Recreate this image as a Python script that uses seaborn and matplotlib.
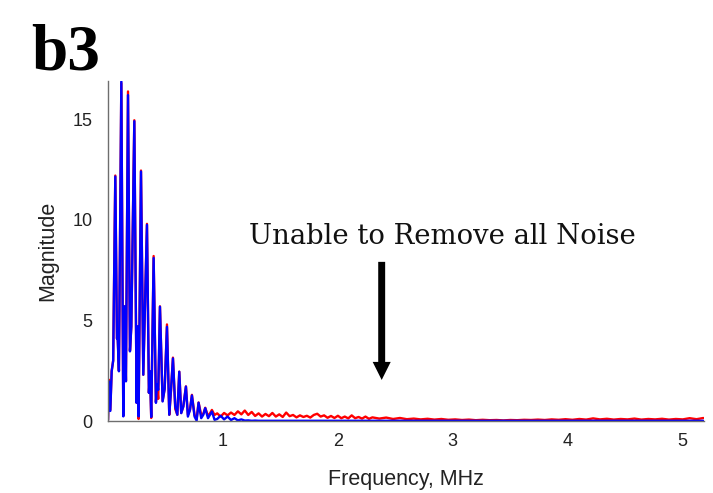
import numpy as np
import pandas as pd
import matplotlib
matplotlib.use("Agg")
import matplotlib.pyplot as plt
import seaborn as sns

# ---- data (frequency in MHz, magnitude) ----
freq_main = [0.000, 0.008, 0.020, 0.032, 0.045, 0.0635, 0.078, 0.084, 0.095, 0.116,
             0.133, 0.145, 0.156, 0.174, 0.191, 0.203, 0.229, 0.249, 0.258, 0.266,
             0.287, 0.307, 0.339, 0.356, 0.365, 0.376, 0.397, 0.417, 0.426, 0.437,
             0.452, 0.475, 0.493, 0.513, 0.533, 0.548, 0.565, 0.585, 0.603, 0.620,
             0.637, 0.655, 0.678, 0.695, 0.713, 0.730, 0.753, 0.771, 0.788, 0.811,
             0.829, 0.846, 0.870, 0.887, 0.904, 0.927]
blue_main = [0.05, 1.97, 0.50, 2.47, 3.00, 12.15, 4.10, 4.10, 2.47, 16.90,
             0.23, 5.70, 1.97, 16.20, 3.46, 4.70, 14.90, 0.90, 4.70, 0.23,
             12.40, 2.30, 9.75, 1.40, 2.47, 0.20, 8.10, 0.90, 1.80, 1.55,
             5.68, 0.97, 1.60, 4.68, 0.31, 1.54, 3.11, 0.72, 0.31, 2.45,
             0.39, 0.72, 1.71, 0.22, 0.55, 1.27, 0.22, 0.02, 0.91, 0.14,
             0.31, 0.64, 0.14, 0.31, 0.47, 0.06]
red_main = [0.05, 2.05, 0.55, 2.50, 3.00, 12.20, 4.10, 4.30, 2.50, 16.80,
            0.25, 5.70, 2.00, 16.38, 3.50, 4.70, 14.95, 0.90, 4.70, 0.10,
            12.45, 2.30, 9.80, 1.40, 2.47, 0.15, 8.20, 0.95, 1.80, 1.10,
            5.70, 1.00, 1.60, 4.80, 0.31, 1.50, 3.15, 0.60, 0.31, 2.45,
            0.40, 0.72, 1.72, 0.30, 0.55, 1.30, 0.30, 0.10, 0.92, 0.30,
            0.35, 0.66, 0.25, 0.38, 0.55, 0.30]

freq_tail = [0.95, 0.98, 1.01, 1.04, 1.07, 1.10, 1.13, 1.16, 1.19, 1.22,
             1.25, 1.28, 1.31, 1.34, 1.37, 1.40, 1.43, 1.46, 1.49, 1.52,
             1.55, 1.58, 1.61, 1.64, 1.67, 1.70, 1.73, 1.76, 1.79, 1.82,
             1.85, 1.88, 1.91, 1.94, 1.97, 2.00, 2.03, 2.06, 2.09, 2.12,
             2.15, 2.18, 2.21, 2.24, 2.27, 2.30,
             2.36, 2.42, 2.48, 2.54, 2.60, 2.66, 2.72, 2.78, 2.84, 2.90,
             2.96, 3.02, 3.08, 3.14, 3.20, 3.26, 3.32, 3.38, 3.44, 3.50,
             3.56, 3.62, 3.68, 3.74, 3.80, 3.86, 3.92, 3.98, 4.04, 4.10,
             4.16, 4.22, 4.28, 4.34, 4.40, 4.46, 4.52, 4.58, 4.64, 4.70,
             4.76, 4.82, 4.88, 4.94, 5.00, 5.06, 5.12, 5.18]
red_tail = [0.38, 0.22, 0.40, 0.28, 0.42, 0.30, 0.48, 0.33, 0.52, 0.30,
            0.45, 0.25, 0.38, 0.22, 0.35, 0.24, 0.40, 0.22, 0.33, 0.20,
            0.42, 0.24, 0.30, 0.18, 0.28, 0.20, 0.26, 0.17, 0.30, 0.36,
            0.22, 0.28, 0.16, 0.25, 0.15, 0.26, 0.14, 0.22, 0.13, 0.28,
            0.14, 0.20, 0.12, 0.22, 0.11, 0.18,
            0.12, 0.17, 0.10, 0.15, 0.09, 0.12, 0.08, 0.11, 0.07, 0.10,
            0.06, 0.08, 0.05, 0.07, 0.04, 0.06, 0.04, 0.05, 0.03, 0.05,
            0.04, 0.06, 0.05, 0.07, 0.05, 0.08, 0.06, 0.09, 0.06, 0.10,
            0.07, 0.13, 0.08, 0.11, 0.07, 0.10, 0.08, 0.12, 0.07, 0.10,
            0.08, 0.11, 0.07, 0.10, 0.08, 0.14, 0.09, 0.15]
blue_tail = [0.10, 0.26, 0.08, 0.22, 0.05, 0.14, 0.03, 0.08, 0.02, 0.03,
             0.01, 0.02, 0.01, 0.01, 0.01, 0.01, 0.01, 0.01, 0.01, 0.01,
             0.01, 0.01, 0.01, 0.01, 0.01, 0.01, 0.01, 0.01, 0.01, 0.01,
             0.01, 0.01, 0.01, 0.01, 0.01, 0.01, 0.01, 0.01, 0.01, 0.01,
             0.01, 0.01, 0.01, 0.01, 0.01, 0.01,
             0.01, 0.01, 0.01, 0.01, 0.01, 0.01, 0.01, 0.01, 0.01, 0.01,
             0.01, 0.01, 0.01, 0.01, 0.01, 0.01, 0.01, 0.01, 0.01, 0.01,
             0.01, 0.01, 0.01, 0.01, 0.01, 0.01, 0.01, 0.01, 0.01, 0.01,
             0.01, 0.01, 0.01, 0.01, 0.01, 0.01, 0.01, 0.01, 0.01, 0.01,
             0.01, 0.01, 0.01, 0.01, 0.01, 0.01, 0.01, 0.01]

x_ticks = [1, 2, 3, 4, 5]
y_ticks = [0, 5, 10, 15]

freq = freq_main + freq_tail
df = pd.concat([
    pd.DataFrame({"freq": freq, "mag": red_main + red_tail, "signal": "Noisy"}),
    pd.DataFrame({"freq": freq, "mag": blue_main + blue_tail, "signal": "Filtered"}),
], ignore_index=True)

sns.set_theme(style="white")
plt.rcParams["font.family"] = ["Liberation Sans", "DejaVu Sans"]

fig = plt.figure(figsize=(7.13, 4.93), dpi=100)
ax = fig.add_axes([108 / 713, 1 - 421 / 493, (704 - 108) / 713, (421 - 81) / 493])

sns.lineplot(data=df, x="freq", y="mag", hue="signal",
             hue_order=["Noisy", "Filtered"],
             palette={"Noisy": "#ff0000", "Filtered": "#0000ff"},
             estimator=None, sort=True, linewidth=1.7, legend=False, ax=ax)

ax.set_xlim(0, 5.185)
ax.set_ylim(0, 16.9)
ax.set_xticks(x_ticks)
ax.set_yticks(y_ticks)
ax.set_xticklabels([str(t) for t in x_ticks])
ax.set_yticklabels([str(t) for t in y_ticks])

for s in ["top", "right"]:
    ax.spines[s].set_visible(False)
for s in ["left", "bottom"]:
    ax.spines[s].set_color("#6e6e6e")
    ax.spines[s].set_linewidth(1.0)
ax.tick_params(axis="both", direction="in", length=5, width=0.9,
               color="#333333", labelsize=13, labelcolor="#222222", pad=9)
ax.tick_params(axis="y", pad=11)

ax.set_xlabel("Frequency, MHz", fontsize=15.5, color="#222222", labelpad=13)
ax.set_ylabel("Magnitude", fontsize=15.5, color="#222222", labelpad=10)

ax.text(2.907, 8.82, "Unable to Remove all Noise", family="DejaVu Serif",
        fontsize=19.8, color="#111111", ha="center", va="baseline")
ax.annotate("", xy=(2.381, 2.04), xytext=(2.381, 7.91),
            arrowprops=dict(arrowstyle="simple,head_length=13,head_width=13,tail_width=5",
                            mutation_scale=1, color="black", lw=0,
                            shrinkA=0, shrinkB=0))

fig.text(31 / 713, 1 - 70 / 493, "b3", family="Liberation Serif",
         fontweight="bold", fontsize=47, color="black", ha="left", va="baseline")

fig.savefig("out.png", dpi=100)
